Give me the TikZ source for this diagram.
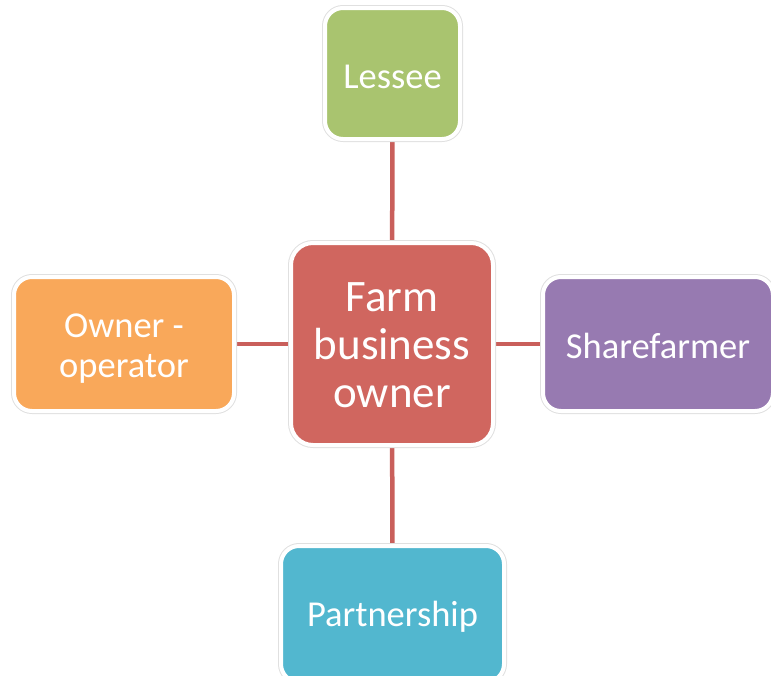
\documentclass[tikz,border=0pt]{standalone}
\usepackage{fontspec}
\setmainfont{Carlito}
\usetikzlibrary{backgrounds}
\definecolor{cred}{HTML}{D0665F}
\definecolor{cline}{HTML}{C95F5B}
\definecolor{cgreen}{HTML}{A9C46F}
\definecolor{corange}{HTML}{F9A85A}
\definecolor{cpurple}{HTML}{977AB1}
\definecolor{cteal}{HTML}{52B7CF}
\newcommand{\lines}[1]{\begin{tabular}{@{}c@{}}#1\end{tabular}}
\newcommand{\dn}[2]{\raisebox{-#1}[\height][\depth]{#2}}
\tikzset{
  box/.style={rectangle, rounded corners=18pt, draw=white, line width=4pt,
    preaction={draw=black!12, line width=6pt}, text=white, align=center,
    inner sep=0pt, font=\fontsize{36.5}{40}\selectfont},
  link/.style={draw=cline, line width=4.5pt}
}
\begin{document}
\begin{tikzpicture}[x=1pt,y=-1pt]
\useasboundingbox (0,0) rectangle (771,675);
\node[box, fill=cred, minimum width=202pt, minimum height=202pt, rounded corners=22pt,
  font=\fontsize{45}{48}\selectfont] (c) at (392,344) {\dn{5.5pt}{\lines{Farm\\business\\owner}}};
\node[box, fill=cgreen, minimum width=135pt, minimum height=131pt] (l) at (392.5,73.5) {\dn{3.5pt}{Lessee}};
\node[box, fill=corange, minimum width=220pt, minimum height=134pt] (o) at (124,344) {\dn{5pt}{\lines{Owner -\\operator}}};
\node[box, fill=cpurple, minimum width=230pt, minimum height=134pt] (s) at (658,344) {\dn{1.5pt}{Sharefarmer}};
\node[box, fill=cteal, minimum width=223pt, minimum height=136pt] (p) at (392.5,614) {\dn{3pt}{Partnership}};
\begin{scope}[on background layer]
\draw[link] (c) -- (l);
\draw[link] (c) -- (o);
\draw[link] (c) -- (s);
\draw[link] (c) -- (p);
\end{scope}
\end{tikzpicture}
\end{document}
